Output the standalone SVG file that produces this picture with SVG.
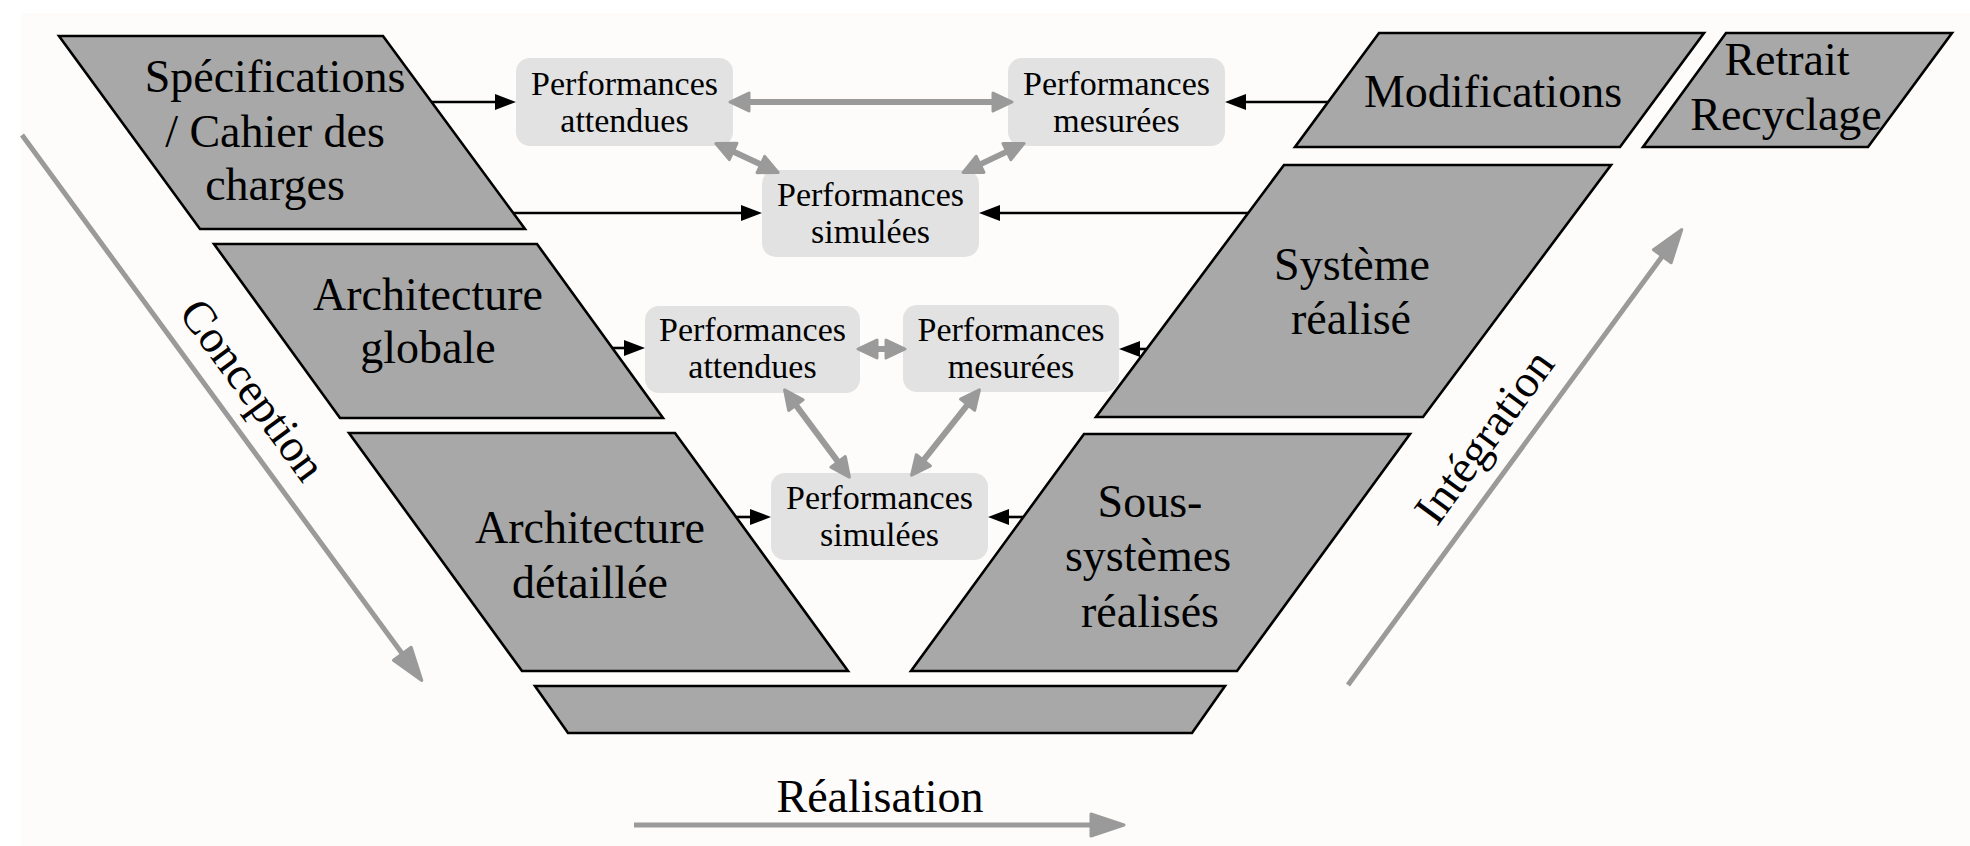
<svg xmlns="http://www.w3.org/2000/svg" width="1970" height="846" viewBox="0 0 1970 846">
<style>
.sh{fill:#a7a8a7;stroke:#000;stroke-width:2.6;stroke-linejoin:miter}
.bx{fill:#e2e2e2;stroke:none}
.big{font-family:"Liberation Serif","Times New Roman",serif;font-size:46px;fill:#000;text-anchor:middle}
.sm{font-family:"Liberation Serif","Times New Roman",serif;font-size:34px;fill:#000;text-anchor:middle}
.blk{fill:none;stroke:#000;stroke-width:2.6;marker-end:url(#ah)}
.gd{fill:none;stroke:#9a9a9a;stroke-width:6;marker-start:url(#gh);marker-end:url(#gh)}
.gb{fill:none;stroke:#9a9a9a;stroke-width:5;marker-end:url(#bh)}
</style>
<defs>
<marker id="ah" markerUnits="userSpaceOnUse" markerWidth="30" markerHeight="20" refX="0" refY="0" orient="auto" style="overflow:visible"><path d="M0,-8 L21,0 L0,8 Z" fill="#000"/></marker>
<marker id="gh" markerUnits="userSpaceOnUse" markerWidth="30" markerHeight="30" refX="0" refY="0" orient="auto-start-reverse" style="overflow:visible"><path d="M0,-9 L19,0 L0,9 Z" fill="#9a9a9a" stroke="#9a9a9a" stroke-width="3" stroke-linejoin="round"/></marker>
<marker id="bh" markerUnits="userSpaceOnUse" markerWidth="40" markerHeight="40" refX="0" refY="0" orient="auto" style="overflow:visible"><path d="M0,-11 L33,0 L0,11 Z" fill="#9a9a9a" stroke="#9a9a9a" stroke-width="3" stroke-linejoin="round"/></marker>
</defs>
<rect x="0" y="0" width="1970" height="846" fill="#ffffff"/>
<rect x="21" y="13" width="1949" height="833" fill="#fdfcfa"/>

<g id="specifications">
<polygon class="sh" points="59,36 383,36 525,229 200,229"/>
<text class="big" x="275" y="92">Spécifications</text>
<text class="big" x="275" y="147">/ Cahier des</text>
<text class="big" x="275" y="200">charges</text>
</g>
<g id="architecture-globale">
<polygon class="sh" points="214,244 537,244 663,418 340,418"/>
<text class="big" x="428" y="310">Architecture</text>
<text class="big" x="428" y="363">globale</text>
</g>
<g id="architecture-detaillee">
<polygon class="sh" points="349,433 675,433 848,671 522,671"/>
<text class="big" x="590" y="543">Architecture</text>
<text class="big" x="590" y="598">détaillée</text>
</g>
<g id="realisation-base">
<polygon class="sh" points="535,686 1225,686 1192,733 568,733"/>
</g>
<g id="sous-systemes">
<polygon class="sh" points="1084,434 1410,434 1237,671 911,671"/>
<text class="big" x="1150" y="517">Sous-</text>
<text class="big" x="1148" y="571">systèmes</text>
<text class="big" x="1150" y="627">réalisés</text>
</g>
<g id="systeme">
<polygon class="sh" points="1284,165 1611,165 1423,417 1096,417"/>
<text class="big" x="1352" y="280">Système</text>
<text class="big" x="1351" y="334">réalisé</text>
</g>
<g id="modifications">
<polygon class="sh" points="1379,33 1704,33 1620,147 1295,147"/>
<text class="big" x="1493" y="107">Modifications</text>
</g>
<g id="retrait">
<polygon class="sh" points="1726,33 1952,33 1868,147 1643,147"/>
<text class="big" x="1787" y="75">Retrait</text>
<text class="big" x="1786" y="130">Recyclage</text>
</g>

<g id="perf-attendues-1">
<rect class="bx" x="516" y="58" width="217" height="88" rx="14"/>
<text class="sm" x="624.5" y="95">Performances</text>
<text class="sm" x="624.5" y="132">attendues</text>
</g>
<g id="perf-mesurees-1">
<rect class="bx" x="1008" y="58" width="217" height="88" rx="14"/>
<text class="sm" x="1116.5" y="95">Performances</text>
<text class="sm" x="1116.5" y="132">mesurées</text>
</g>
<g id="perf-simulees-1">
<rect class="bx" x="762" y="170" width="217" height="87" rx="14"/>
<text class="sm" x="870.5" y="206">Performances</text>
<text class="sm" x="870.5" y="243">simulées</text>
</g>
<g id="perf-attendues-2">
<rect class="bx" x="645" y="306" width="215" height="87" rx="14"/>
<text class="sm" x="752.5" y="341">Performances</text>
<text class="sm" x="752.5" y="378">attendues</text>
</g>
<g id="perf-mesurees-2">
<rect class="bx" x="903" y="305" width="216" height="87" rx="14"/>
<text class="sm" x="1011" y="341">Performances</text>
<text class="sm" x="1011" y="378">mesurées</text>
</g>
<g id="perf-simulees-2">
<rect class="bx" x="771" y="473" width="217" height="87" rx="14"/>
<text class="sm" x="879.5" y="509">Performances</text>
<text class="sm" x="879.5" y="546">simulées</text>
</g>

<g id="connectors">
<path class="blk" d="M432,102 H495"/>
<path class="blk" d="M513,213 H741"/>
<path class="blk" d="M1328,102 H1246"/>
<path class="blk" d="M1248,213 H1000"/>
<path class="blk" d="M612,348 H624"/>
<path class="blk" d="M1147,349 H1140"/>
<path class="blk" d="M736,517 H750"/>
<path class="blk" d="M1023,517 H1009"/>

<path class="gd" d="M749,102 H993"/>
<path class="gd" d="M733.1,151.5 L760.9,164.5"/>
<path class="gd" d="M1006.9,151.6 L980.1,164.4"/>
<path class="gd" d="M877,349 H886"/>
<path class="gd" d="M795.9,405.1 L838.1,461.9"/>
<path class="gd" d="M967.6,404.7 L923.4,460.3"/>

<path class="gb" d="M22,135 L402.3,653.8"/>
<path class="gb" d="M1348,685 L1662.3,256.2"/>
<path class="gb" d="M634,825 H1091"/>
</g>

<g id="labels">
<text class="big" transform="translate(251,391) rotate(53.75)" x="0" y="13">Conception</text>
<text class="big" transform="translate(1486,438) rotate(-53.9)" x="0" y="13">Intégration</text>
<text class="big" x="880" y="812">Réalisation</text>
</g>
</svg>
